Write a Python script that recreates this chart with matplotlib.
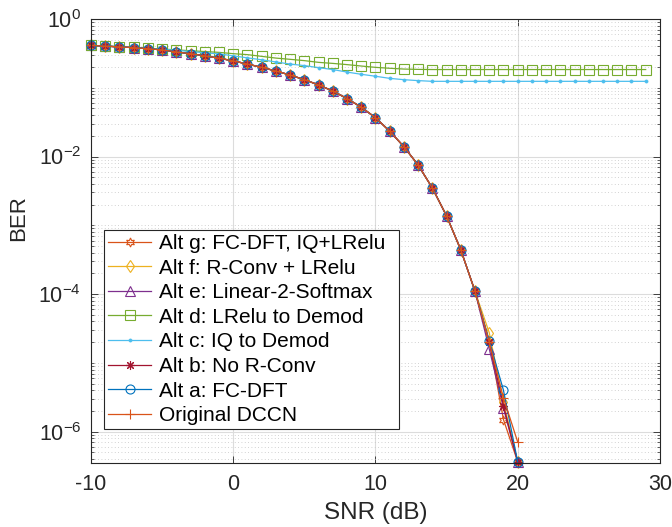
import matplotlib
matplotlib.use("Agg")
import matplotlib.pyplot as plt
from matplotlib.ticker import LogLocator, FixedLocator, NullFormatter

plt.rcParams['font.family'] = ['Liberation Sans', 'DejaVu Sans']
plt.rcParams['mathtext.fontset'] = 'custom'
plt.rcParams['mathtext.rm'] = 'Liberation Sans'
plt.rcParams['mathtext.it'] = 'Liberation Sans'
plt.rcParams['mathtext.default'] = 'regular'
plt.rcParams['axes.unicode_minus'] = False

# SNR values
snr_short = list(range(-10, 21))
snr_long = list(range(-10, 30))

# common part of the curves, SNR -10 .. 17
base = [0.413, 0.403, 0.393, 0.383, 0.370, 0.355, 0.332, 0.313, 0.291, 0.269,
        0.246, 0.221, 0.198, 0.175, 0.153, 0.131, 0.110, 0.0896, 0.0697, 0.0522,
        0.0367, 0.0234, 0.0139, 0.00753, 0.00349, 0.00137, 4.4e-4, 1.10e-4]

# tails at SNR 18, 19, 20
tail_orig = [2.0e-5, 3.1e-6, 7.1e-7]
tail_a = [2.1e-5, 4.0e-6, 3.65e-7]
tail_b = [2.0e-5, 2.4e-6, 3.65e-7]
tail_e = [1.6e-5, 2.2e-6, 3.65e-7]
tail_f = [2.75e-5, 2.7e-6, 3.65e-7]
tail_g = [2.1e-5, 1.5e-6, 3.65e-7]

ber_c = [0.413, 0.404, 0.394, 0.385, 0.374, 0.362, 0.350, 0.336, 0.322, 0.311,
         0.291, 0.272, 0.255, 0.237, 0.221, 0.210, 0.196, 0.184, 0.169, 0.157,
         0.147, 0.137, 0.131, 0.127] + [0.124] * 16
ber_d = [0.413, 0.404, 0.393, 0.385, 0.375, 0.365, 0.356, 0.345, 0.336, 0.327,
         0.313, 0.303, 0.286, 0.270, 0.259, 0.248, 0.234, 0.226, 0.217, 0.207,
         0.198, 0.192, 0.187, 0.185] + [0.184] * 16

series = [
    ("Alt g: FC-DFT, IQ+LRelu", snr_short, base + tail_g, "#D95319", (6, 1, 0)),
    ("Alt f: R-Conv + LRelu", snr_short, base + tail_f, "#EDB120", "d"),
    ("Alt e: Linear-2-Softmax", snr_short, base + tail_e, "#7E2F8E", "^"),
    ("Alt d: LRelu to Demod", snr_long, ber_d, "#77AC30", "s"),
    ("Alt c: IQ to Demod", snr_long, ber_c, "#4DBEEE", "."),
    ("Alt b: No R-Conv", snr_short, base + tail_b, "#A2142F", (8, 2, 0)),
    ("Alt a: FC-DFT", snr_short, base + tail_a, "#0072BD", "o"),
    ("Original DCCN", snr_short, base + tail_orig, "#D95319", "+"),
]

fig = plt.figure(figsize=(6.72, 5.27), dpi=100)
ax = fig.add_axes([0.1354, 0.1214, 0.8466, 0.8426])

for name, x, y, col, mk in series:
    if mk == '.':
        ax.semilogy(x, y, color=col, marker=mk, markersize=4.5, linewidth=0.9,
                    markeredgewidth=0.5, label=name, clip_on=False)
    else:
        ax.semilogy(x, y, color=col, marker=mk, markersize=6.5, linewidth=0.9,
                    markeredgewidth=0.8, fillstyle='none', label=name,
                    clip_on=False)

ax.set_xlim(-10, 30)
ax.set_ylim(3.5e-7, 1)
ax.set_xticks([-10, 0, 10, 20, 30])
ax.yaxis.set_major_locator(FixedLocator([1e-6, 1e-4, 1e-2, 1]))
ax.set_yticklabels([r'$10^{-6}$', r'$10^{-4}$', r'$10^{-2}$', r'$10^{0}$'])
ax.yaxis.set_minor_locator(LogLocator(base=10, subs=range(1, 10), numticks=50))
ax.yaxis.set_minor_formatter(NullFormatter())

dark = '#262626'
ax.tick_params(axis='both', which='both', direction='in', top=True, right=True,
               colors=dark, labelsize=15.5)
ax.tick_params(which='major', length=5, width=0.6)
ax.tick_params(which='minor', length=2.5, width=0.5)
ax.tick_params(axis='x', pad=8)
ax.tick_params(axis='y', pad=7)
for s in ax.spines.values():
    s.set_color(dark)
    s.set_linewidth(0.8)

ax.grid(True, which='major', color='#dcdcdc', linewidth=0.8, linestyle='-')
ax.grid(True, which='minor', axis='y', color='#c4c4c4', linewidth=0.6,
        linestyle=(0, (1, 3)))
ax.set_axisbelow(True)

ax.set_xlabel('SNR (dB)', fontsize=17.5, color=dark, labelpad=5)
ax.set_ylabel('BER', fontsize=16, color=dark)
ax.yaxis.set_label_coords(-0.108, 0.552)

leg = ax.legend(loc='lower left', bbox_to_anchor=(0.0228, 0.0766, 0.518, 0.4434),
                mode='expand', fontsize=15, fancybox=False, framealpha=1,
                edgecolor=dark, handlelength=2.1, borderaxespad=0,
                labelspacing=0.27, handletextpad=0.38, borderpad=0.18)
leg.get_frame().set_linewidth(0.8)

fig.savefig('out.png', dpi=100)
